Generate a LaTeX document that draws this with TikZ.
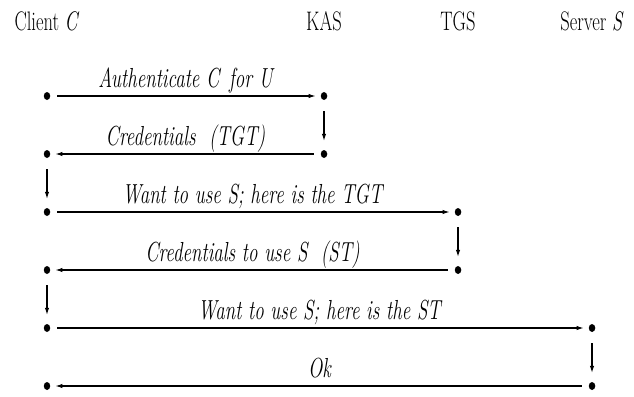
\documentclass[tikz,border=0pt]{standalone}
\usepackage{fontspec}
\usepackage{graphicx}
\usetikzlibrary{arrows.meta,shapes.geometric}
\newcommand{\tallt}[1]{\scalebox{1}[1.45]{#1}}
\tikzset{
  dotnode/.style={ellipse, fill=black, inner sep=0pt, minimum width=6.5pt, minimum height=8pt},
  hdr/.style={anchor=base, inner sep=0pt, font=\fontsize{18.5}{22}\selectfont},
  lbl/.style={anchor=base, inner sep=0pt, yshift=9pt, font=\fontsize{19}{22}\selectfont\itshape},
  msg/.style={line width=1.1pt, -{Latex[length=7pt,width=4.5pt]}, shorten <=7pt, shorten >=5pt},
  hop/.style={line width=1.1pt, -{Latex[length=7pt,width=4.5pt]}, shorten <=11pt, shorten >=9pt},
}
\begin{document}
\begin{tikzpicture}[x=1pt,y=-1pt]
\useasboundingbox (0,0) rectangle (634,396);
% headers
\node[hdr] (hc) at (47,31) {\tallt{Client \textit{C}}};
\node[hdr] (hk) at (324,31) {\tallt{KAS}};
\node[hdr] (ht) at (458,31) {\tallt{TGS}};
\node[hdr] (hs) at (592,31) {\tallt{Server \textit{S}}};
% dots
\node[dotnode] (c1) at (47,96) {};
\node[dotnode] (c2) at (47,154) {};
\node[dotnode] (c3) at (47,212) {};
\node[dotnode] (c4) at (47,270) {};
\node[dotnode] (c5) at (47,328) {};
\node[dotnode] (c6) at (47,386) {};
\node[dotnode] (k1) at (324,96) {};
\node[dotnode] (k2) at (324,154) {};
\node[dotnode] (t1) at (458,212) {};
\node[dotnode] (t2) at (458,270) {};
\node[dotnode] (s1) at (592,328) {};
\node[dotnode] (s2) at (592,386) {};
% messages
\draw[msg] (c1) -- node[lbl] {\tallt{Authenticate C\, for U}} (k1);
\draw[hop] (k1) -- (k2);
\draw[msg] (k2) -- node[lbl] {\tallt{Credentials\ \ (TGT)}} (c2);
\draw[hop] (c2) -- (c3);
\draw[msg] (c3) -- node[lbl] {\tallt{Want to use S; here is the TGT}} (t1);
\draw[hop] (t1) -- (t2);
\draw[msg] (t2) -- node[lbl] {\tallt{Credentials to use S\ \ (ST)}} (c4);
\draw[hop] (c4) -- (c5);
\draw[msg] (c5) -- node[lbl] {\tallt{Want to use S; here is the ST}} (s1);
\draw[hop] (s1) -- (s2);
\draw[msg] (s2) -- node[lbl] {\tallt{Ok}} (c6);
\end{tikzpicture}
\end{document}
